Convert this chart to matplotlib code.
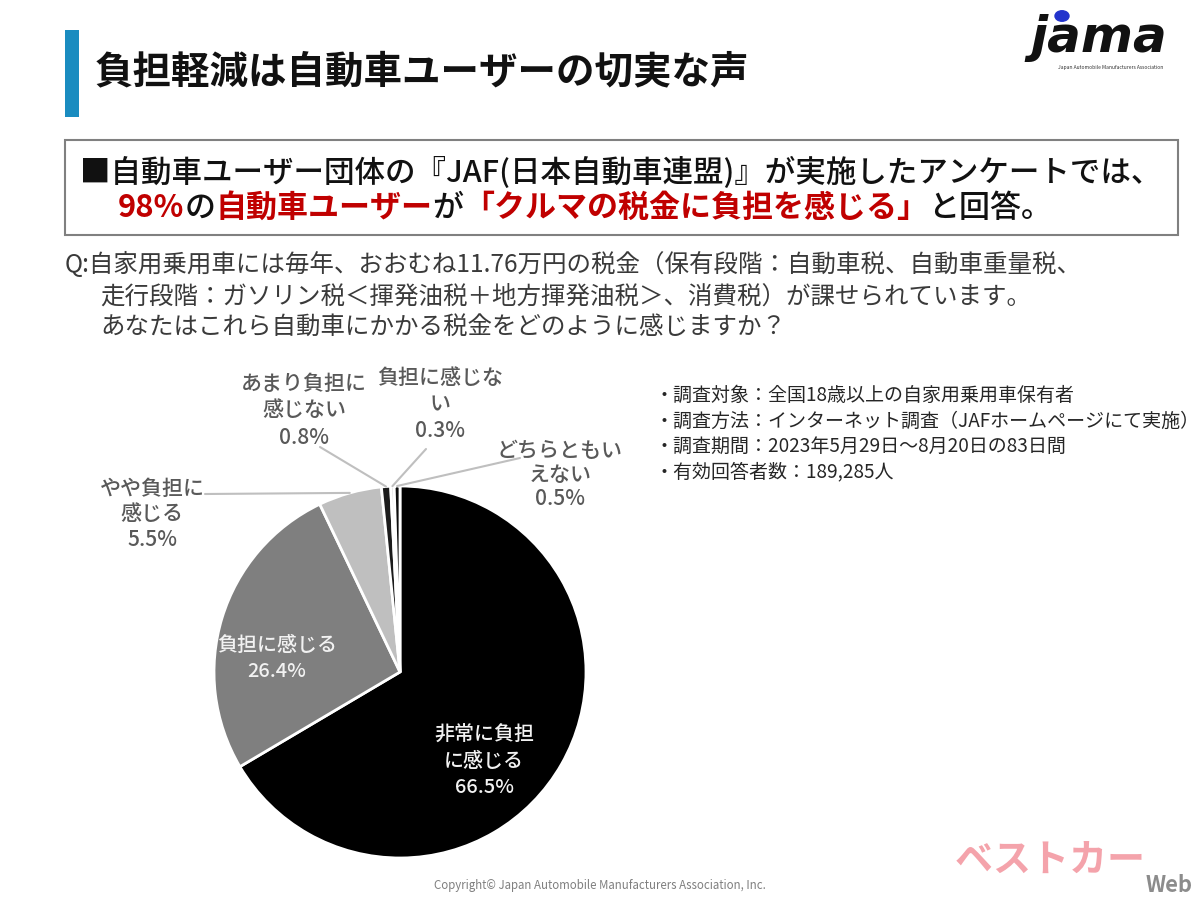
import numpy as np
import matplotlib
matplotlib.use("Agg")
import matplotlib.pyplot as plt
from matplotlib.patches import Rectangle, Circle
import matplotlib.patheffects as pe

plt.rcParams['font.family'] = ['Noto Sans CJK JP', 'DejaVu Sans']

# survey answers, clockwise from 12 o'clock
labels = ["非常に負担\nに感じる", "負担に感じる", "やや負担に\n感じる",
          "あまり負担に\n感じない", "負担に感じな\nい", "どちらともい\nえない"]
shares = [66.5, 26.4, 5.5, 0.8, 0.3, 0.5]
colors = ["#000000", "#7f7f7f", "#bfbfbf", "#1c1c1c", "#dedede", "#0d0d0d"]

title = "負担軽減は自動車ユーザーの切実な声"
box_line1 = "■自動車ユーザー団体の『JAF(日本自動車連盟)』が実施したアンケートでは、"
box_line2 = [("98%", "#c00000", "bold"), ("の", "#111111", "medium"),
             ("自動車ユーザー", "#c00000", "bold"), ("が", "#111111", "medium"),
             ("「クルマの税金に負担を感じる」", "#c00000", "bold"),
             ("と回答。", "#111111", "medium")]
question = ["Q:自家用乗用車には毎年、おおむね11.76万円の税金（保有段階：自動車税、自動車重量税、",
            "走行段階：ガソリン税＜揮発油税＋地方揮発油税＞、消費税）が課せられています。",
            "あなたはこれら自動車にかかる税金をどのように感じますか？"]
notes = ["・調査対象：全国18歳以上の自家用乗用車保有者",
         "・調査方法：インターネット調査（JAFホームページにて実施）",
         "・調査期間：2023年5月29日～8月20日の83日間",
         "・有効回答者数：189,285人"]
copyright_txt = "Copyright© Japan Automobile Manufacturers Association, Inc."

W, H = 1200, 900


def fx(px):
  return px / W


def fy(py):
  return 1 - py / H


def pt(px):
  return px * 72 / 100


fig = plt.figure(figsize=(12, 9), dpi=100)
fig.patch.set_facecolor("white")
renderer = fig.canvas.get_renderer()

# header
fig.add_artist(Rectangle((fx(65), fy(117)), 14 / W, 87 / H, transform=fig.transFigure,
                         color="#1a8cc0", lw=0))
fig.text(fx(95), fy(72), title, fontsize=pt(38.5), weight="bold", va="center", color="#111111")

# jama logo
fig.text(fx(1030), fy(38), "jama", fontsize=36, weight="bold", style="italic",
         family="DejaVu Sans", va="center", color="#111111")
fig.add_artist(Circle((fx(1062), fy(16)), 7 / W, transform=fig.transFigure, color="#2233cc"))
fig.text(fx(1058), fy(67), "Japan Automobile Manufacturers Association", fontsize=3.6,
         va="center", color="#333333", style="italic")

# summary box
fig.add_artist(Rectangle((fx(65), fy(235)), (1178 - 65) / W, 95 / H, transform=fig.transFigure,
                         fc="white", ec="#808080", lw=1.5))
fig.text(fx(80), fy(173), box_line1, fontsize=pt(30.5), va="center", color="#111111",
         weight="medium")
x = 118
for s, c, w in box_line2:
  t = fig.text(fx(x), fy(208), s, fontsize=pt(31), va="center", color=c, weight=w)
  x += t.get_window_extent(renderer).width

# question
for i, (line, y) in enumerate(zip(question, [265, 297, 327])):
  fig.text(fx(65 if i == 0 else 100), fy(y), line, fontsize=pt(24.5), va="center",
           color="#3a3a3a")

# survey notes
for line, y in zip(notes, [395, 421, 446, 472]):
  fig.text(fx(655), fy(y), line, fontsize=pt(19), va="center", color="#262626")

# pie
cx, cy, r = 400, 672, 186
ax = fig.add_axes([fx(cx - r), fy(cy + r), 2 * r / W, 2 * r / H])
wedges, _ = ax.pie(shares, colors=colors, startangle=90, counterclock=False,
                   wedgeprops=dict(edgecolor="white", linewidth=2))
ax.set_xlim(-1, 1)
ax.set_ylim(-1, 1)
ax.axis("off")

# labels inside
def label_lines(lines, xc, ys, color, size, weight="medium"):
  for s, y in zip(lines, ys):
    fig.text(fx(xc), fy(y), s, fontsize=pt(size), ha="center", va="center",
             color=color, weight=weight)

label_lines(labels[0].split("\n") + [f"{shares[0]}%"], 484, [735, 761, 787], "#f2f2f2", 20)
label_lines(labels[1].split("\n") + [f"{shares[1]}%"], 277, [645, 671], "#f2f2f2", 20)

# outside labels with leader lines
outside = {2: (152, [489, 514, 540], (205, 494)),
           3: (304, [384, 410, 438], (320, 447)),
           4: (440, [378, 404, 431], (426, 449)),
           5: (560, [451, 475, 499], (520, 458))}
for i, (xc, ys, start) in outside.items():
  label_lines(labels[i].split("\n") + [f"{shares[i]}%"], xc, ys, "#595959", 21)
  w = wedges[i]
  mid = np.deg2rad((w.theta1 + w.theta2) / 2)
  ax.annotate("", xy=(np.cos(mid), np.sin(mid)), xycoords="data",
              xytext=(start[0], H - start[1]), textcoords="figure pixels",
              arrowprops=dict(arrowstyle="-", color="#bfbfbf", lw=1.5,
                              shrinkA=0, shrinkB=0), annotation_clip=False)

# footer
fig.text(0.5, fy(885), copyright_txt, fontsize=pt(11.5), ha="center", va="center",
         color="#7f7f7f")
fig.text(fx(955), fy(860), "ベストカー", fontsize=pt(38), weight="bold", style="italic",
         va="center", color="#f4a3ab",
         path_effects=[pe.withStroke(linewidth=5, foreground="white")])
fig.text(fx(1146), fy(885), "Web", fontsize=pt(22), va="center", color="#8c8c8c",
         weight="bold")

fig.savefig("out.png", dpi=100)
